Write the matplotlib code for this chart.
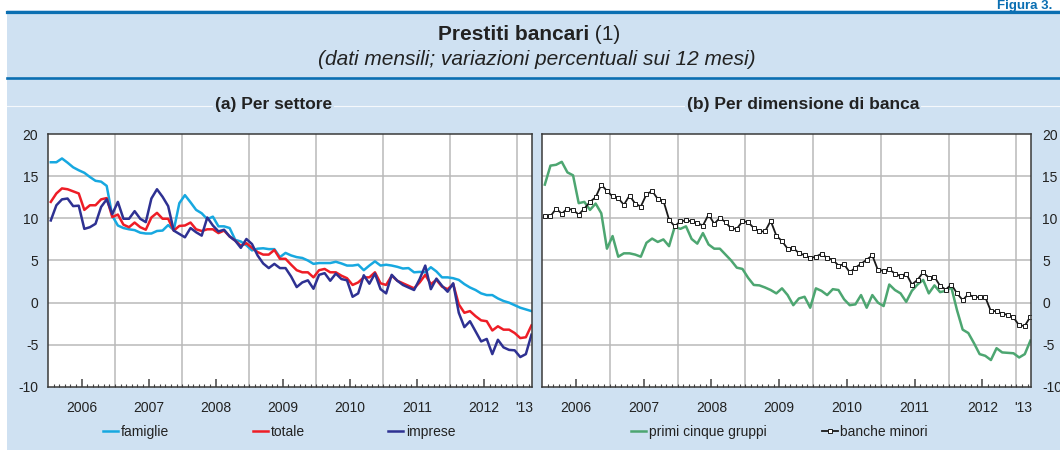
import matplotlib
matplotlib.use("Agg")
import matplotlib.pyplot as plt
from matplotlib.lines import Line2D
from matplotlib.patches import Rectangle
import numpy as np

plt.rcParams['font.family'] = ['Liberation Sans', 'DejaVu Sans']

# ---------------- data (monthly, Jan 2006 - Mar 2013) ----------------
famiglie = [16.65, 16.65, 17.1, 16.6, 16.05, 15.7, 15.4, 14.9, 14.45, 14.35, 13.85, 10.3,
            9.15, 8.85, 8.7, 8.6, 8.3, 8.2, 8.2, 8.5, 8.55, 9.2, 8.6, 11.8,
            12.75, 11.9, 11.0, 10.6, 9.9, 10.2, 9.05, 9.05, 8.85, 7.45, 7.25, 6.8,
            6.2, 6.4, 6.45, 6.35, 6.35, 5.4, 5.9, 5.6, 5.4, 5.3, 5.0, 4.6,
            4.7, 4.7, 4.7, 4.85, 4.65, 4.4, 4.4, 4.5, 3.85, 4.4, 4.9, 4.4,
            4.5, 4.4, 4.25, 4.05, 4.1, 3.6, 3.65, 3.6, 4.2, 3.7, 3.0, 3.0,
            2.9, 2.7, 2.2, 1.8, 1.5, 1.1, 0.9, 0.9, 0.5, 0.2, 0.0, -0.3,
            -0.6, -0.8, -1.0]
totale = [11.95, 12.95, 13.55, 13.45, 13.2, 12.95, 11.0, 11.55, 11.55, 12.25, 12.4, 10.15,
          10.45, 9.25, 8.95, 9.5, 8.95, 8.65, 10.1, 10.65, 9.95, 9.95, 8.55, 9.1,
          9.15, 9.5, 8.7, 8.5, 8.7, 8.7, 8.25, 8.55, 7.85, 7.35, 6.75, 7.05,
          6.5, 6.0, 5.7, 5.7, 6.25, 5.2, 5.2, 4.5, 3.85, 3.6, 3.6, 3.0,
          3.85, 4.0, 3.6, 3.6, 3.2, 2.9, 2.1, 2.4, 3.0, 3.0, 3.6, 2.3,
          2.1, 3.2, 2.6, 2.3, 2.0, 1.7, 2.4, 3.3, 2.2, 2.7, 1.9, 1.6,
          2.2, -0.2, -1.2, -1.0, -1.6, -2.1, -2.2, -3.3, -2.8, -3.2, -3.2, -3.6,
          -4.2, -4.1, -2.7]
imprese = [9.75, 11.55, 12.25, 12.35, 11.45, 11.5, 8.75, 8.95, 9.35, 11.35, 12.25, 10.5,
           11.95, 9.95, 9.95, 10.85, 9.95, 9.55, 12.35, 13.45, 12.55, 11.45, 8.55, 8.15,
           7.75, 8.85, 8.35, 7.95, 10.1, 9.15, 8.45, 8.65, 7.85, 7.35, 6.5, 7.55,
           6.95, 5.6, 4.65, 4.1, 4.6, 4.1, 4.1, 3.1, 1.85, 2.4, 2.65, 1.65,
           3.3, 3.5, 2.6, 3.45, 2.8, 2.65, 0.7, 1.1, 3.25, 2.25, 3.45, 1.6,
           1.1, 3.3, 2.6, 2.1, 1.8, 1.5, 2.8, 4.4, 1.6, 2.85, 2.0, 1.3,
           2.3, -1.2, -2.9, -2.2, -3.4, -4.6, -4.3, -6.1, -4.4, -5.3, -5.6, -5.65,
           -6.45, -6.1, -3.8]
primi_cinque = [14.0, 16.25, 16.35, 16.7, 15.45, 15.1, 11.8, 11.95, 11.0, 11.75, 10.6, 6.4,
                7.9, 5.45, 5.85, 5.85, 5.7, 5.45, 7.1, 7.6, 7.2, 7.5, 6.7, 9.0,
                8.75, 9.05, 7.55, 7.0, 8.25, 6.9, 6.4, 6.4, 5.7, 5.0, 4.15, 4.0,
                2.95, 2.1, 2.05, 1.8, 1.5, 1.1, 1.7, 0.9, -0.3, 0.5, 0.7, -0.6,
                1.7, 1.4, 0.9, 1.6, 1.5, 0.4, -0.3, -0.2, 0.9, -0.6, 0.9, 0.0,
                -0.4, 2.15, 1.5, 1.1, 0.1, 1.4, 2.15, 2.7, 1.1, 2.05, 1.25, 1.4,
                1.8, -0.9, -3.2, -3.6, -4.8, -6.1, -6.3, -6.8, -5.4, -5.9, -5.95, -6.0,
                -6.5, -6.1, -4.5]
banche_minori = [10.25, 10.25, 11.15, 10.55, 11.15, 11.0, 10.45, 11.15, 11.95, 12.5, 14.0, 13.25,
                 12.6, 12.4, 11.6, 12.7, 11.75, 11.4, 12.85, 13.25, 12.3, 12.1, 9.85, 9.05,
                 9.65, 9.75, 9.65, 9.45, 9.15, 10.45, 9.35, 10.05, 9.55, 8.8, 8.75, 9.65,
                 9.55, 8.85, 8.45, 8.45, 9.7, 7.95, 7.3, 6.4, 6.5, 5.85, 5.65, 5.3,
                 5.45, 5.8, 5.3, 5.1, 4.4, 4.55, 3.6, 4.15, 4.6, 5.1, 5.6, 3.85,
                 3.8, 3.95, 3.45, 3.15, 3.45, 2.15, 2.7, 3.6, 2.95, 3.05, 2.0, 1.55,
                 2.15, 1.1, 0.3, 1.0, 0.65, 0.65, 0.65, -1.0, -1.0, -1.3, -1.45, -1.75,
                 -2.7, -2.75, -1.65]
year_labels = ['2006', '2007', '2008', '2009', '2010', '2011', '2012', "'13"]
y_ticks = [-10, -5, 0, 5, 10, 15, 20]

# ---------------- style ----------------
W, H = 1060, 450
BG = '#cfe1f2'
BLUE = '#0b6fb2'
C_FAM = '#17a8e0'
C_TOT = '#ee1d26'
C_IMP = '#2e3192'
C_PRI = '#4da671'
C_BAN = '#1a1a1a'
TXT = '#222222'


def fx(px):
    return px / W


def fy(py):
    return 1 - py / H


fig = plt.figure(figsize=(W / 100, H / 100), dpi=100, facecolor='white')

# background panel and header rules
fig.patches.append(Rectangle((fx(7), 0), 1 - fx(7), fy(10), transform=fig.transFigure,
                             facecolor=BG, edgecolor='none', zorder=-10))
fig.lines.append(Line2D([fx(7), 1], [fy(11.5), fy(11.5)], transform=fig.transFigure,
                        color=BLUE, lw=2.3, zorder=-5))
fig.lines.append(Line2D([fx(7), 1], [fy(77.5), fy(77.5)], transform=fig.transFigure,
                        color=BLUE, lw=1.9, zorder=-5))
fig.lines.append(Line2D([fx(7), 1], [fy(106), fy(106)], transform=fig.transFigure,
                        color='white', lw=0.8, alpha=0.8, zorder=-5))

fig.text(fx(1052), fy(8.5), 'Figura 3.', ha='right', va='baseline', fontsize=9.5,
         weight='bold', color=BLUE)
fig.text(fx(589), fy(40), 'Prestiti bancari', ha='right', va='baseline', fontsize=15,
         weight='bold', color=TXT)
fig.text(fx(589), fy(40), ' (1)', ha='left', va='baseline', fontsize=15, color=TXT)
fig.text(fx(537), fy(65), '(dati mensili; variazioni percentuali sui 12 mesi)', ha='center',
         va='baseline', fontsize=15, style='italic', color=TXT)

for xc, t in [(273.5, '(a) Per settore'), (803, '(b) Per dimensione di banca')]:
    fig.text(fx(xc), fy(105), t, ha='center', va='center', fontsize=12.5, weight='bold',
             color=TXT, bbox=dict(facecolor=BG, edgecolor='none', pad=1.5), zorder=3)

axL = fig.add_axes([fx(48), fy(387), (532 - 48) / W, (387 - 134) / H])
axR = fig.add_axes([fx(542), fy(387), (1031 - 542) / W, (387 - 134) / H])

major_pos = [5.5 + 12 * k for k in range(7)] + [84.7]
minor_pos = np.arange(0.5, 86, 1.0)
grid_x = [11.5 + 12 * k for k in range(7)]


def style(ax, right=False):
    ax.set_facecolor('white')
    ax.set_xlim(-0.5, 86.1)
    ax.set_ylim(-10, 20)
    for gx in grid_x:
        ax.axvline(gx, color='#b9b9b9', lw=1.1, zorder=1)
    for gy in [-5, 0, 5, 10, 15]:
        ax.axhline(gy, color='#b9b9b9', lw=1.1, zorder=1)
    ax.set_yticks(y_ticks)
    ax.set_yticklabels([str(v) for v in y_ticks])
    ax.set_xticks(major_pos)
    ax.set_xticklabels(year_labels)
    ax.set_xticks(minor_pos, minor=True)
    ax.tick_params(axis='x', which='major', direction='in', length=5.5, width=1.1,
                   color='#444444', labelsize=10, labelcolor=TXT, pad=10, top=False)
    ax.tick_params(axis='x', which='minor', direction='in', length=2.5, width=0.8,
                   color='#444444', top=False)
    ax.xaxis.get_major_ticks()[-1].tick1line.set_visible(False)
    if right:
        ax.yaxis.tick_right()
        ax.tick_params(axis='y', length=0, labelsize=10, labelcolor=TXT, pad=8,
                       left=False, right=True)
    else:
        ax.tick_params(axis='y', length=0, labelsize=10, labelcolor=TXT, pad=7)
    for s in ax.spines.values():
        s.set_color('#3a3a3a')
        s.set_linewidth(1.1)
        s.set_zorder(5)


style(axL)
style(axR, right=True)

lw = 1.8
x1 = np.arange(len(famiglie))
axL.plot(x1, famiglie, color=C_FAM, lw=lw, label='famiglie', zorder=3)
x2 = np.arange(len(totale))
axL.plot(x2, totale, color=C_TOT, lw=lw, label='totale', zorder=3)
x3 = np.arange(len(imprese))
axL.plot(x3, imprese, color=C_IMP, lw=lw, label='imprese', zorder=3)

x4 = np.arange(len(primi_cinque))
axR.plot(x4, primi_cinque, color=C_PRI, lw=lw, label='primi cinque gruppi', zorder=3)
x5 = np.arange(len(banche_minori))
axR.plot(x5, banche_minori, color=C_BAN, lw=1.3, marker='s', ms=3.4, mfc='white',
         mec=C_BAN, mew=0.7, label='banche minori', zorder=4)

for ax, xpos, cs in [(axL, 103, 6.0), (axR, 631, 4.0)]:
    h, l = ax.get_legend_handles_labels()
    fig.legend(h, l, loc='center left', bbox_to_anchor=(fx(xpos), fy(432)), ncol=len(h),
               frameon=False, fontsize=10, handlelength=1.1, handletextpad=0.2,
               columnspacing=cs, borderpad=0, borderaxespad=0, labelcolor=TXT)

fig.savefig('out.png', dpi=100, facecolor=fig.get_facecolor())
